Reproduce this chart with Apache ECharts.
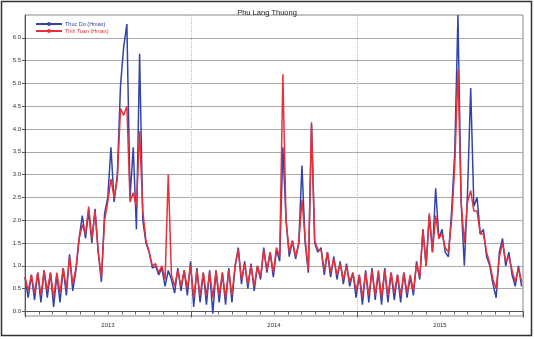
<!DOCTYPE html>
<html><head><meta charset="utf-8">
<script src="https://cdn.jsdelivr.net/npm/echarts@6/dist/echarts.min.js"></script>
<style>html,body{margin:0;padding:0;background:#fff}#c{width:534px;height:339px}</style>
</head><body><div id="c"></div>
<script>
const chartTitle = 'Phu Lang Thuong';
const seriesNames = ['Thuc Do (Hmax)', 'Tinh Toan (Hmax)'];
const yearLabels = ['2013', '2014', '2015'];
const yTicks = [0.0, 0.5, 1.0, 1.5, 2.0, 2.5, 3.0, 3.5, 4.0, 4.5, 5.0, 5.5, 6.0];
const stepDays = 7; // weekly samples from 2013-01-01
const measured = [
  0.75,0.3,0.8,0.25,0.85,0.2,0.9,0.3,0.85,0.1,0.8,0.2,0.95,0.35,1.25,0.45,0.9,
  1.6,2.1,1.6,2.2,1.5,2.25,1.3,0.65,2.15,2.5,
  3.6,2.4,3.0,4.95,5.8,6.3,2.5,3.6,1.8,5.65,2.0,1.5,1.3,0.95,1.0,0.8,0.95,0.55,0.9,
  0.7,0.4,0.95,0.45,0.9,0.35,1.1,0.1,0.95,0.2,0.85,0.15,0.9,-0.05,0.9,0.2,0.85,0.15,0.95,0.2,1.0,
  1.4,0.6,1.1,0.5,1.05,0.45,1.0,0.7,1.4,0.85,1.3,0.75,1.35,1.1,
  3.6,2.0,1.2,1.55,1.15,1.5,3.2,1.5,0.85,4.1,1.5,1.3,1.4,0.8,1.3,0.75,1.2,0.7,1.1,0.6,1.05,0.55,0.85,0.3,
  0.8,0.15,0.9,0.2,0.95,0.25,0.85,0.15,0.95,0.2,0.85,0.25,0.8,0.2,0.85,0.3,0.75,0.35,
  1.1,0.7,1.8,1.0,2.1,1.3,2.7,1.6,1.8,1.3,1.2,2.2,3.5,6.5,2.4,1.0,2.6,4.9,2.3,2.5,1.7,1.8,1.2,1.0,0.6,0.3,1.3,1.6,1.0,1.3,0.8,0.55,1.0,0.55
];
const computed = [
  0.75,0.45,0.8,0.4,0.85,0.35,0.9,0.45,0.85,0.3,0.85,0.4,0.95,0.5,1.2,0.6,0.95,
  1.6,1.9,1.7,2.3,1.6,2.2,1.3,0.75,2.0,2.4,
  2.9,2.5,2.9,4.45,4.3,4.5,2.4,2.6,2.3,3.95,2.2,1.55,1.3,1.0,1.05,0.85,1.0,0.7,3.0,
  0.8,0.55,0.9,0.55,0.9,0.5,1.0,0.3,0.9,0.35,0.85,0.35,0.85,0.3,0.9,0.35,0.85,0.3,0.9,0.35,1.0,
  1.35,0.7,1.05,0.6,1.0,0.55,1.0,0.75,1.35,0.9,1.3,0.85,1.4,1.2,
  5.2,2.0,1.3,1.55,1.2,1.5,2.45,1.6,0.9,4.15,1.55,1.35,1.35,0.9,1.3,0.85,1.15,0.8,1.05,0.7,1.0,0.65,0.85,0.45,
  0.8,0.3,0.85,0.35,0.9,0.35,0.9,0.3,0.9,0.35,0.85,0.4,0.8,0.35,0.85,0.4,0.8,0.45,
  1.05,0.75,1.8,1.0,2.15,1.3,2.1,1.6,1.7,1.4,1.3,2.0,3.2,5.3,2.4,1.5,2.4,2.65,2.2,2.2,1.7,1.7,1.3,1.05,0.7,0.5,1.2,1.5,1.1,1.2,0.9,0.65,0.95,0.65
];

const toPairs = arr => arr.map((v, i) => [i * stepDays, v]);
const blue = '#3344a8', red = '#e8303a';
const chart = echarts.init(document.getElementById('c'), null, {renderer: 'canvas'});
chart.setOption({
  animation: false,
  backgroundColor: '#fff',
  title: {text: chartTitle, left: 'center', top: 4,
    textStyle: {fontSize: 7.5, fontWeight: 'normal', color: '#222', fontFamily: 'Liberation Sans'}},
  legend: {
    left: 30, top: 16, orient: 'vertical', itemWidth: 26, itemHeight: 5, itemGap: 1,
    data: [
      {name: seriesNames[0], textStyle: {color: blue}},
      {name: seriesNames[1], textStyle: {color: red}}
    ],
    textStyle: {fontSize: 5.5, fontFamily: 'Liberation Sans', padding: [0,0,0,-2]}
  },
  grid: {left: 25, right: 11, top: 15, bottom: 23, show: true, borderColor: '#888', borderWidth: 1},
  xAxis: [
    {type: 'value', min: 0, max: 1095, interval: 365,
      axisLine: {lineStyle: {color: '#555'}},
      axisTick: {show: true, length: 6, lineStyle: {color: '#555'}},
      minorTick: {show: true, splitNumber: 12, length: 3, lineStyle: {color: '#666'}},
      axisLabel: {show: false},
      splitLine: {show: true, lineStyle: {color: '#9cc4e4', type: 'dotted', width: 1}}
    },
    {type: 'category', data: yearLabels, boundaryGap: true, position: 'bottom',
      axisLine: {show: false}, axisTick: {show: false},
      axisLabel: {fontSize: 6, margin: 6, color: '#333', fontFamily: 'Liberation Sans'},
      splitLine: {show: false}
    }
  ],
  yAxis: {
    type: 'value', min: -0.1, max: 6.5,
    axisLine: {show: true, lineStyle: {color: '#555'}},
    axisTick: {show: true, length: 3, customValues: yTicks, lineStyle: {color: '#555'}},
    axisLabel: {customValues: yTicks, fontSize: 6, margin: 4, color: '#333',
      fontFamily: 'Liberation Sans', formatter: v => v.toFixed(1)},
    splitLine: {show: true, lineStyle: {color: '#aaa', width: 1}}
  },
  series: [
    {name: seriesNames[0], type: 'line', data: toPairs(measured), xAxisIndex: 0,
      showSymbol: false, symbol: 'circle', symbolSize: 3,
      lineStyle: {color: blue, width: 1.5}, itemStyle: {color: blue}},
    {name: seriesNames[1], type: 'line', data: toPairs(computed), xAxisIndex: 0,
      showSymbol: false, symbol: 'circle', symbolSize: 3,
      lineStyle: {color: red, width: 1.5}, itemStyle: {color: red}}
  ],
  graphic: [{type: 'rect', shape: {x: 1.5, y: 1.5, width: 530, height: 334},
    style: {fill: 'none', stroke: '#333', lineWidth: 1.5}, silent: true}]
});
</script>
</body></html>
